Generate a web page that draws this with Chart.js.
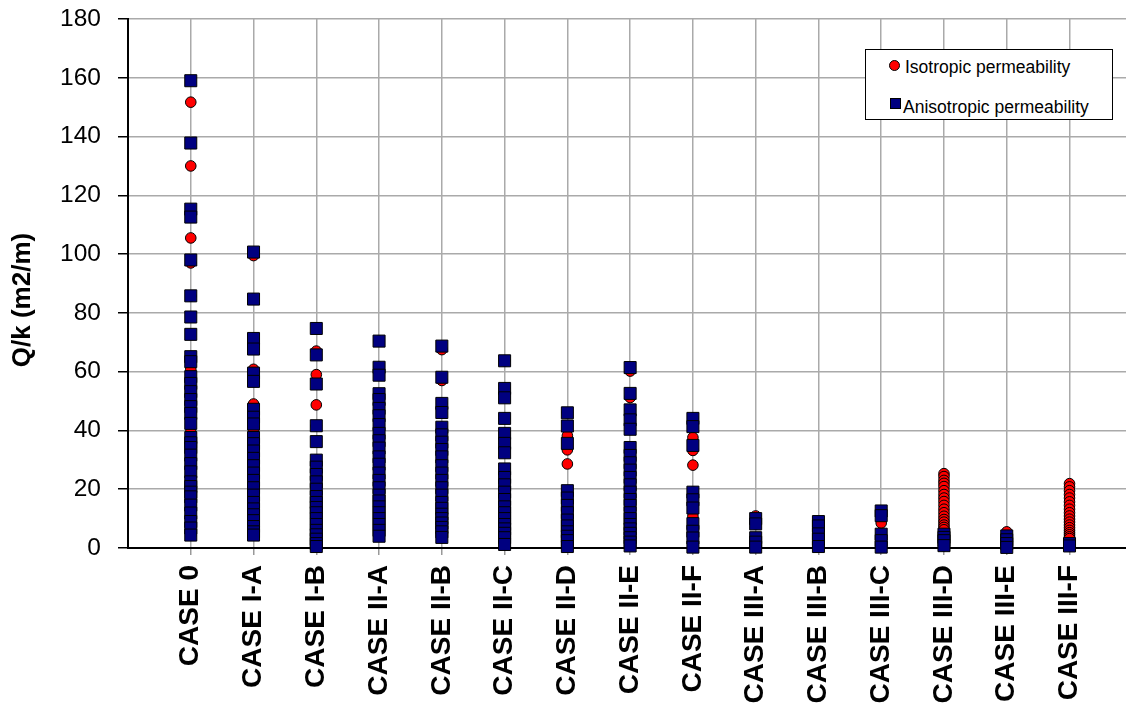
<!DOCTYPE html>
<html>
<head>
<meta charset="utf-8">
<script src="https://cdn.jsdelivr.net/npm/chart.js@4.4.1/dist/chart.umd.min.js"></script>
<style>
  html, body { margin: 0; padding: 0; background: #fff; }
  #wrap { position: relative; width: 1126px; height: 703px; overflow: hidden; }
  #legend { position: absolute; left: 865px; top: 49px; width: 248px; height: 71px; border: 1px solid #000; background: #fff; box-sizing: border-box; font-family: "Liberation Sans", Arial, sans-serif; font-size: 17.5px; line-height: 20px; color: #000; }
  #legend .txt { position: absolute; white-space: nowrap; }
  #legend .dot { position: absolute; width: 11px; height: 11px; border-radius: 50%; background: #ff0000; border: 1px solid #000; box-sizing: border-box; }
  #legend .sq { position: absolute; width: 11px; height: 11px; background: #000080; border: 1px solid #000; box-sizing: border-box; }
</style>
</head>
<body>
<div id="wrap">
  <canvas id="c" width="1126" height="703"></canvas>
  <div id="legend">
    <div class="dot" style="left:23px;top:10px;"></div>
    <div class="txt" style="left:39px;top:7px;">Isotropic permeability</div>
    <div class="sq" style="left:24px;top:48px;"></div>
    <div class="txt" style="left:37px;top:47px;">Anisotropic permeability</div>
  </div>
</div>
<script>
const categories = ['CASE 0','CASE I-A','CASE I-B','CASE II-A','CASE II-B','CASE II-C','CASE II-D','CASE II-E','CASE II-F','CASE III-A','CASE III-B','CASE III-C','CASE III-D','CASE III-E','CASE III-F'];
const yTicks = [0,20,40,60,80,100,120,140,160,180];

// Isotropic permeability values per category
const isoValues = [
  [151.7,130,105.5,97,85.8,60.8,55,50.5,45.8,39.4,34.2,28.7,20.9,14.6,9,4.4],
  [99.5,84.7,71.3,60.8,56.7,49,43.5,40,34.9,28,21,14.1,9,4.4],
  [67,59,48.7,41.6,29.9,20,10,3],
  [70.4,61.5,52.5,45,36.5,28.5,20.5,12,6],
  [67.5,57,49.2,41.1,33.5,25.5,18,11.5,5.5],
  [63.7,54.3,44.1,35.6,26.9,19,12,5],
  [46,38.2,33.4,28.6,19.5,12,5.5],
  [60.2,51.2,47,34.2,26.5,19,12,6.5],
  [44.1,37.6,33.2,28.2,19,10.8,5.7],
  [10.9,8.2,3.5,0.3],
  [9,4.8,0.5],
  [12.6,8.5,4.7,0.3],
  [25.3,24.3,23,22,20.9,19.5,18.2,17,15.8,14.5,13.2,12,10.8,9.7,8.8,7.8,7,6.2,4.7,2.5,0.8],
  [5.5,2.8,0.2],
  [21.9,20.8,19.5,18.2,17,15.7,14.5,13.2,12,10.9,9.8,8.8,7.8,6.9,6,5.2,4.5,3.8,3.2,0.7]
];

// Anisotropic permeability values per category
const anisoValues = [
  [159,137.8,115.3,112.6,98,85.8,78.6,72.7,65.1,63.4,58.3,56,53.2,50.5,48.1,45.8,42.4,37.6,35.8,34.2,31.6,28.7,25.9,22.5,20.9,19,17.4,14.6,11.9,9,6.8,4.4],
  [100.7,84.7,71.3,67.7,59.5,56.7,47.2,44.5,42.2,37.6,35.5,33,30.5,28,25.5,23,20.5,18,15.5,13.3,11.3,9.3,7.3,5.5,4.4],
  [74.7,65.7,55.8,41.6,36.2,29.9,27.5,25,22.5,20,17.5,15.5,13.8,12,10,8,6,4.5,3,1.5,0.5],
  [70.4,61.5,58.8,52.5,50.5,47.5,45,42,39,36.5,34,31,28.5,25.5,23,20.5,18,16,14,12,10,8,6,4],
  [68.7,58.1,49.2,46.1,41.1,38.5,36,33.5,31,28,25.5,23,20.5,18,15.5,13.5,11.5,10,8.5,7,5.5,3.6],
  [63.7,54.3,51.1,44.1,39,35.6,32.4,26.9,24,21.5,19,16.5,14,12,10,8,6.5,5,3.5,1.2],
  [46,41.5,35.6,19.5,17,14.5,12,9.5,7.5,5.5,4,2.5,0.5],
  [61.4,52.6,47,43.6,40.4,34.2,31.5,29,26.5,24,21.5,19,16.5,14.5,12,10,8,6.5,5,3.5,2,0.7],
  [44.1,41.3,34.9,19,16.4,13.6,8.3,5.7,3.4,0.3],
  [10,8.2,3.5,2,0.3],
  [9,7.5,4.8,3,0.5],
  [12.6,11,4.7,2.5,0.3],
  [4.7,3.6,2.5,0.8],
  [4.1,2.8,1.5,0.2],
  [1.5,0.7]
];

function toPoints(values) {
  const pts = [];
  values.forEach((arr, i) => arr.forEach(v => pts.push({ x: i + 1, y: v })));
  return pts;
}

const FONT = '"Liberation Sans", Arial, Helvetica, sans-serif';

const titlePlugin = {
  id: 'yTitle',
  afterDraw(chart) {
    const ctx = chart.ctx;
    ctx.save();
    ctx.translate(23, 300);
    ctx.rotate(-Math.PI / 2);
    ctx.font = 'bold 26px ' + FONT;
    ctx.fillStyle = '#000';
    ctx.textAlign = 'center';
    ctx.textBaseline = 'middle';
    ctx.fillText('Q/k (m2/m)', 0, 0);
    ctx.restore();
  }
};

new Chart(document.getElementById('c'), {
  type: 'scatter',
  data: {
    datasets: [
      {
        label: 'Isotropic permeability',
        data: toPoints(isoValues),
        pointStyle: 'circle',
        pointRadius: 5.3,
        pointBackgroundColor: '#ff0000',
        pointBorderColor: '#000000',
        pointBorderWidth: 1,
        order: 2,
        clip: false
      },
      {
        label: 'Anisotropic permeability',
        data: toPoints(anisoValues),
        pointStyle: 'rect',
        pointRadius: 8.5,
        pointBackgroundColor: '#000080',
        pointBorderColor: '#000000',
        pointBorderWidth: 1,
        order: 1,
        clip: false
      }
    ]
  },
  options: {
    responsive: false,
    animation: false,
    devicePixelRatio: 1,
    layout: { autoPadding: false, padding: { top: 19, right: 0, left: 0, bottom: 0 } },
    plugins: { legend: { display: false }, tooltip: { enabled: false } },
    scales: {
      x: {
        type: 'linear',
        min: 0,
        max: 15.9,
        afterBuildTicks: s => { s.ticks = categories.map((c, i) => ({ value: i + 1 })); },
        afterFit: s => { s.height = 155; s.paddingLeft = 0; s.paddingRight = 0; },
        ticks: {
          autoSkip: false,
          maxRotation: 90,
          minRotation: 90,
          padding: 10,
          color: '#000',
          font: { family: FONT, size: 28, weight: 'bold' },
          callback: v => categories[Math.round(v) - 1] || ''
        },
        grid: { color: '#aaaaaa', lineWidth: 1.5, tickLength: 7, tickColor: '#999999' },
        border: { display: true, color: '#000', width: 2 }
      },
      y: {
        min: 0,
        max: 180,
        afterBuildTicks: s => { s.ticks = yTicks.map(v => ({ value: v })); },
        afterFit: s => { s.width = 128; s.paddingTop = 0; s.paddingBottom = 0; },
        ticks: {
          padding: 17,
          color: '#000',
          font: { family: FONT, size: 24.5 }
        },
        grid: { color: '#aaaaaa', lineWidth: 1.5, tickLength: 10, tickColor: '#000' },
        border: { display: true, color: '#000', width: 2 }
      }
    }
  },
  plugins: [titlePlugin]
});
</script>
</body>
</html>
